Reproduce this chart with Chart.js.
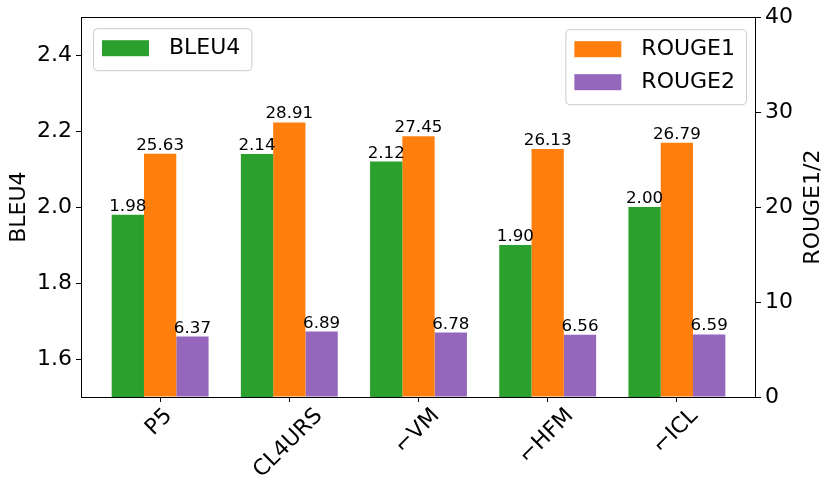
<!DOCTYPE html>
<html>
<head>
<meta charset="utf-8">
<script src="https://cdn.jsdelivr.net/npm/chart.js@4.4.1/dist/chart.umd.min.js"></script>
<style>
html, body { margin: 0; padding: 0; background: #fff; }
canvas { display: block; }
</style>
</head>
<body>
<canvas id="chart" width="831" height="495"></canvas>
<script>
// Values
const categories = ['P5', 'CL4URS', '⌐VM', '⌐HFM', '⌐ICL'];
const bleu4 = [1.98, 2.14, 2.12, 1.90, 2.00];
const rouge1 = [25.63, 28.91, 27.45, 26.13, 26.79];
const rouge2 = [6.37, 6.89, 6.78, 6.56, 6.59];
const bleuTicks = [1.6, 1.8, 2.0, 2.2, 2.4];
const rougeTicks = [0, 10, 20, 30, 40];

const FONT = 'DejaVu Sans';
const GREEN = '#2ca02c';
const ORANGE = '#ff7f0e';
const PURPLE = '#9467bd';

function points(values) {
  return values.map((v, i) => ({ x: i, y: v }));
}

function roundRect(ctx, x, y, w, h, r) {
  ctx.beginPath();
  ctx.moveTo(x + r, y);
  ctx.arcTo(x + w, y, x + w, y + h, r);
  ctx.arcTo(x + w, y + h, x, y + h, r);
  ctx.arcTo(x, y + h, x, y, r);
  ctx.arcTo(x, y, x + w, y, r);
  ctx.closePath();
}

// draw a matplotlib-like legend box, anchored left or right
function drawLegend(ctx, items, anchorX, top, side) {
  ctx.font = '22px ' + FONT;
  const textW = Math.max(...items.map(it => ctx.measureText(it.label).width));
  const w = 9 + 47 + 20 + textW + 11;
  const h = 9 + items.length * 33;
  const left = side === 'left' ? anchorX : anchorX - w;
  roundRect(ctx, left + 0.5, top + 0.5, w, h, 4);
  ctx.fillStyle = 'rgba(255,255,255,0.8)';
  ctx.fill();
  ctx.strokeStyle = '#cccccc';
  ctx.lineWidth = 1;
  ctx.stroke();
  items.forEach((it, k) => {
    const cy = top + 20 + k * 33;
    ctx.fillStyle = it.color;
    ctx.fillRect(left + 9, cy - 8, 47, 16);
    ctx.fillStyle = '#000';
    ctx.textAlign = 'left';
    ctx.textBaseline = 'middle';
    ctx.fillText(it.label, left + 76, cy);
  });
}

const overlay = {
  id: 'overlay',
  afterDatasetsDraw(chart) {
    const ctx = chart.ctx;
    const area = chart.chartArea;
    const xScale = chart.scales.x;
    ctx.save();

    // spines
    ctx.strokeStyle = '#000';
    ctx.lineWidth = 1;
    ctx.strokeRect(Math.round(area.left) + 0.5, Math.round(area.top) + 0.5,
      Math.round(area.right - area.left) - 1, Math.round(area.bottom - area.top));

    // bar value labels
    ctx.font = '16.7px ' + FONT;
    ctx.fillStyle = '#000';
    ctx.textAlign = 'center';
    ctx.textBaseline = 'alphabetic';
    chart.data.datasets.forEach((ds, d) => {
      chart.getDatasetMeta(d).data.forEach((el, i) => {
        ctx.fillText(ds.data[i].y.toFixed(2), el.x, el.y - 4);
      });
    });

    // rotated category labels, box centred under the tick
    ctx.font = '22px ' + FONT;
    ctx.textBaseline = 'middle';
    categories.forEach((c, i) => {
      const x = xScale.getPixelForValue(i);
      const w = ctx.measureText(c).width;
      const y = area.bottom + 10 + (w + 16) * 0.7071 / 2;
      ctx.save();
      ctx.translate(x - 1, y);
      ctx.rotate(-Math.PI / 4);
      ctx.fillText(c, 0, 0);
      ctx.restore();
    });

    // axis titles
    const midY = (area.top + area.bottom) / 2;
    ctx.save();
    ctx.translate(19, midY);
    ctx.rotate(-Math.PI / 2);
    ctx.fillText('BLEU4', 0, 0);
    ctx.restore();
    ctx.save();
    ctx.translate(813, midY);
    ctx.rotate(-Math.PI / 2);
    ctx.fillText('ROUGE1/2', 0, 0);
    ctx.restore();

    // legends
    const ds = chart.data.datasets;
    drawLegend(ctx, [{ label: ds[0].label, color: ds[0].backgroundColor }],
      area.left + 12, area.top + 11, 'left');
    drawLegend(ctx, [
      { label: ds[1].label, color: ds[1].backgroundColor },
      { label: ds[2].label, color: ds[2].backgroundColor }
    ], area.right - 10, area.top + 12, 'right');

    ctx.restore();
  }
};

const tickGrid = {
  drawOnChartArea: false,
  drawTicks: true,
  tickLength: 5,
  tickColor: '#000',
  lineWidth: 1,
  offset: false
};

new Chart(document.getElementById('chart'), {
  type: 'bar',
  data: {
    datasets: [
      { label: 'BLEU4', data: points(bleu4), yAxisID: 'y', backgroundColor: GREEN },
      { label: 'ROUGE1', data: points(rouge1), yAxisID: 'y1', backgroundColor: ORANGE },
      { label: 'ROUGE2', data: points(rouge2), yAxisID: 'y1', backgroundColor: PURPLE }
    ]
  },
  options: {
    responsive: false,
    animation: false,
    layout: { padding: { top: 17, left: 0, right: 0, bottom: 0 } },
    datasets: {
      bar: { categoryPercentage: 0.75, barPercentage: 1.0, borderWidth: 0 }
    },
    plugins: {
      legend: { display: false },
      tooltip: { enabled: false }
    },
    scales: {
      x: {
        type: 'linear',
        offset: false,
        min: -0.6125,
        max: categories.length - 1 + 0.6125,
        afterBuildTicks: s => { s.ticks = categories.map((c, i) => ({ value: i })); },
        afterFit: s => { s.height = 98; },
        ticks: { display: false },
        grid: tickGrid,
        border: { display: false }
      },
      y: {
        position: 'left',
        min: 1.5,
        max: 2.5,
        afterBuildTicks: s => { s.ticks = bleuTicks.map(v => ({ value: v })); },
        afterFit: s => { s.width = 81; },
        ticks: {
          font: { family: FONT, size: 22 },
          color: '#000',
          padding: 4,
          callback: v => v.toFixed(1)
        },
        grid: tickGrid,
        border: { display: false }
      },
      y1: {
        position: 'right',
        min: 0,
        max: 40,
        afterBuildTicks: s => { s.ticks = rougeTicks.map(v => ({ value: v })); },
        afterFit: s => { s.width = 75; },
        ticks: {
          font: { family: FONT, size: 22 },
          color: '#000',
          padding: 4,
          callback: v => String(v)
        },
        grid: tickGrid,
        border: { display: false }
      }
    }
  },
  plugins: [overlay]
});
</script>
</body>
</html>
